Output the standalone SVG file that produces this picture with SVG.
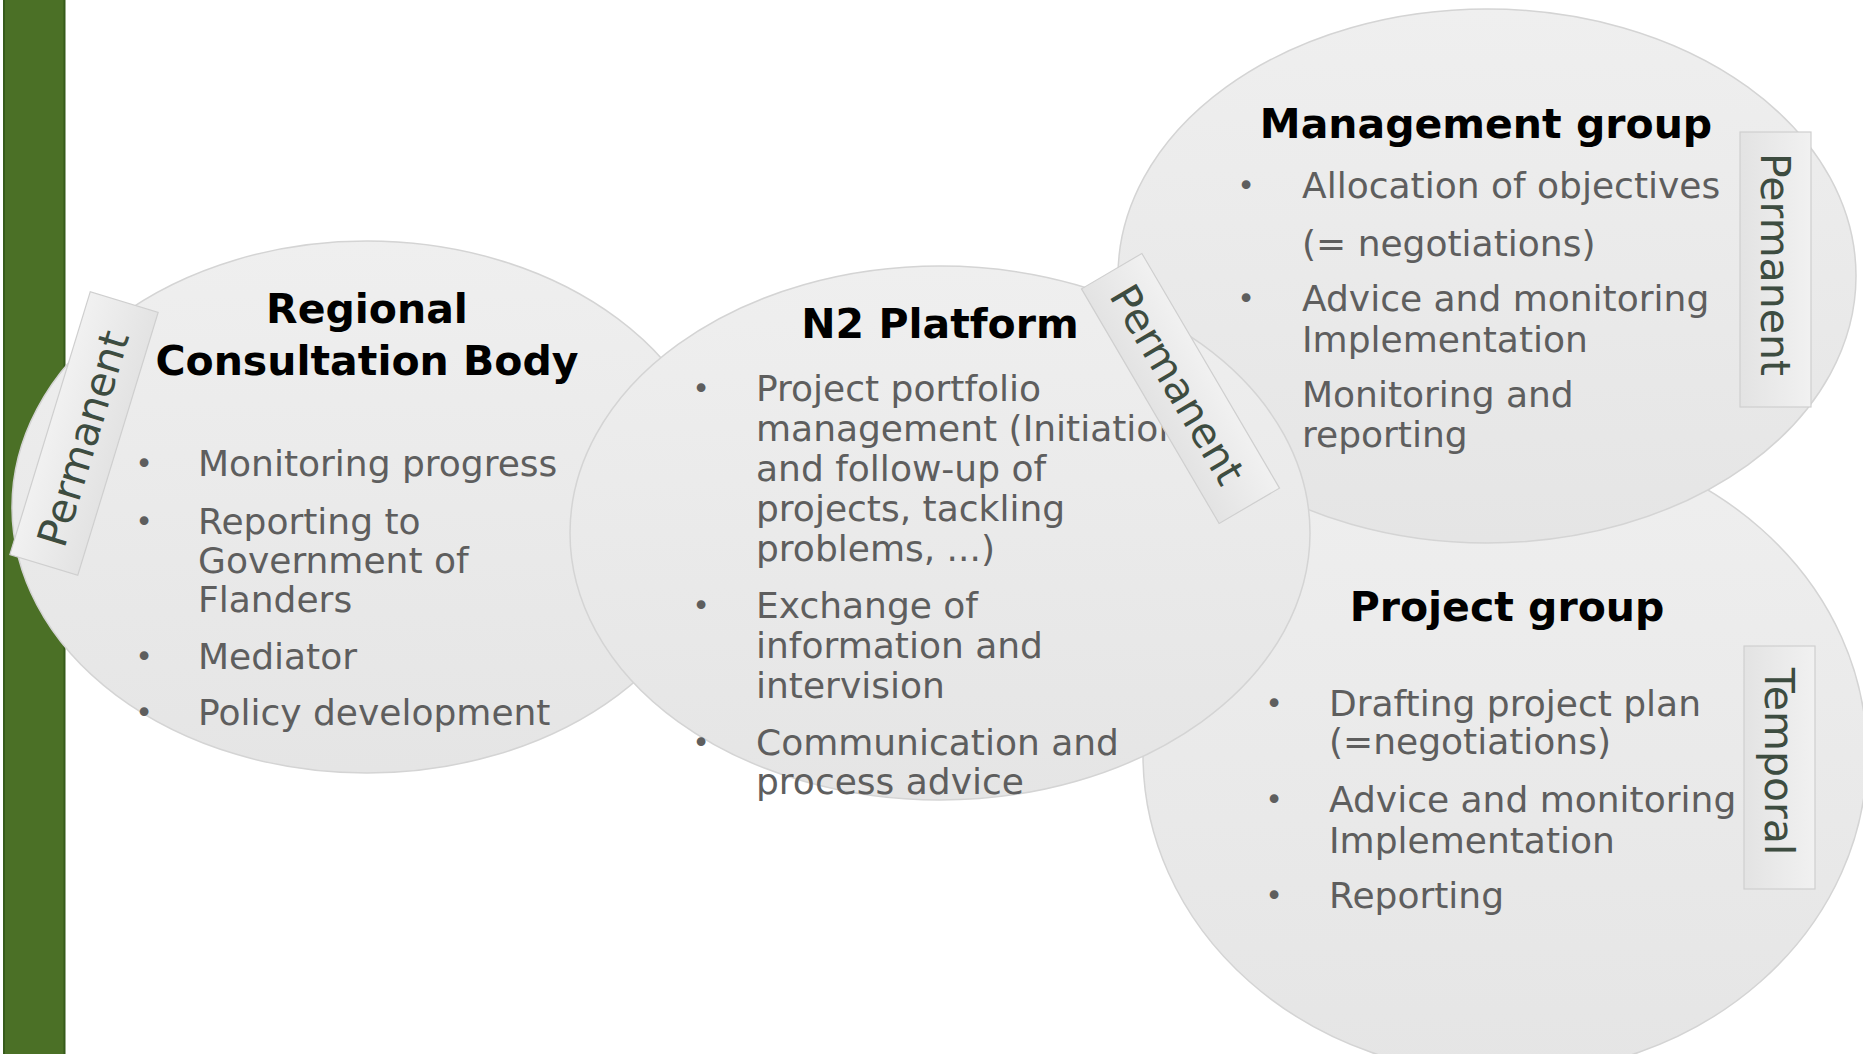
<svg xmlns="http://www.w3.org/2000/svg" width="1863" height="1054" viewBox="0 0 1863 1054">
<style>
.ell{fill:url(#eg);stroke:#d4d4d4;stroke-width:1.5}
.title{font-family:"DejaVu Sans",sans-serif;font-weight:bold;font-size:41px;fill:#000;text-anchor:middle}
.body{font-family:"DejaVu Sans",sans-serif;font-size:36px;fill:#5e5e5e}
.bul{font-family:"DejaVu Sans",sans-serif;font-size:30px;fill:#5e5e5e;text-anchor:middle}
.tag rect{fill:url(#tg);stroke:#cfcfcf;stroke-width:1.2}
.tag text{font-family:"DejaVu Sans",sans-serif;font-size:41px;fill:#3d4c40;text-anchor:middle}
</style>
<defs>
<linearGradient id="eg" x1="0" y1="0" x2="0" y2="1">
<stop offset="0" stop-color="#efefef"/>
<stop offset="1" stop-color="#e5e5e5"/>
</linearGradient>
<linearGradient id="tg" x1="0" y1="0" x2="0" y2="1">
<stop offset="0" stop-color="#f1f1f1"/>
<stop offset="1" stop-color="#e3e3e3"/>
</linearGradient>
</defs>
<rect width="1863" height="1054" fill="#ffffff"/>
<rect id="sidebar" x="4" y="-2" width="60.5" height="1060" fill="#4b7026" stroke="#375b1b" stroke-width="2"/>
<g id="connectors"/>
<g id="regional">
<ellipse class="ell" cx="367" cy="507" rx="355" ry="266"/>
<text class="title" x="367" y="323">Regional</text>
<text class="title" x="367" y="375">Consultation Body</text>
<text class="bul" x="144" y="474">•</text>
<text class="body" x="198" y="476">Monitoring progress</text>
<text class="bul" x="144" y="532">•</text>
<text class="body" x="198" y="534">Reporting to</text>
<text class="body" x="198" y="573">Government of</text>
<text class="body" x="198" y="612">Flanders</text>
<text class="bul" x="144" y="667">•</text>
<text class="body" x="198" y="669">Mediator</text>
<text class="bul" x="144" y="723">•</text>
<text class="body" x="198" y="725">Policy development</text>
<g class="tag" transform="translate(84,433.5) rotate(-73)">
<rect x="-137.5" y="-35.5" width="275" height="71"/>
<text x="-5" y="15">Permanent</text>
</g>
</g>
<g id="project">
<ellipse class="ell" cx="1505" cy="755" rx="362" ry="320"/>
<text class="title" x="1507" y="621">Project group</text>
<text class="bul" x="1274" y="714">•</text>
<text class="body" x="1329" y="716">Drafting project plan</text>
<text class="body" x="1329" y="754">(=negotiations)</text>
<text class="bul" x="1274" y="810">•</text>
<text class="body" x="1329" y="812">Advice and monitoring</text>
<text class="body" x="1329" y="853">Implementation</text>
<text class="bul" x="1274" y="906">•</text>
<text class="body" x="1329" y="908">Reporting</text>
<g class="tag" transform="translate(1779.5,767.5) rotate(90)">
<rect x="-121.5" y="-35.5" width="243" height="71"/>
<text x="-6" y="15">Temporal</text>
</g>
</g>
<g id="management">
<ellipse class="ell" cx="1487" cy="276" rx="369" ry="267"/>
<text class="title" x="1486" y="138">Management group</text>
<text class="bul" x="1246" y="196">•</text>
<text class="body" x="1302" y="198">Allocation of objectives</text>
<text class="body" x="1302" y="256">(= negotiations)</text>
<text class="bul" x="1246" y="309">•</text>
<text class="body" x="1302" y="311">Advice and monitoring</text>
<text class="body" x="1302" y="352">Implementation</text>
<text class="body" x="1302" y="407">Monitoring and</text>
<text class="body" x="1302" y="447">reporting</text>
<g class="tag" transform="translate(1775.5,269.5) rotate(90)">
<rect x="-137.5" y="-35.5" width="275" height="71"/>
<text x="-5" y="15">Permanent</text>
</g>
</g>
<g id="n2platform">
<ellipse class="ell" cx="940" cy="533" rx="370" ry="267"/>
<text class="title" x="940" y="338">N2 Platform</text>
<text class="bul" x="701" y="399">•</text>
<text class="body" x="756" y="401">Project portfolio</text>
<text class="body" x="756" y="441">management (Initiation</text>
<text class="body" x="756" y="481">and follow-up of</text>
<text class="body" x="756" y="521">projects, tackling</text>
<text class="body" x="756" y="561">problems, ...)</text>
<text class="bul" x="701" y="616">•</text>
<text class="body" x="756" y="618">Exchange of</text>
<text class="body" x="756" y="658">information and</text>
<text class="body" x="756" y="698">intervision</text>
<text class="bul" x="701" y="753">•</text>
<text class="body" x="756" y="755">Communication and</text>
<text class="body" x="756" y="794">process advice</text>
<g class="tag" transform="translate(1180.5,388.5) rotate(59.6)">
<rect x="-136" y="-35" width="272" height="70"/>
<text x="-5" y="15">Permanent</text>
</g>
</g>
</svg>
